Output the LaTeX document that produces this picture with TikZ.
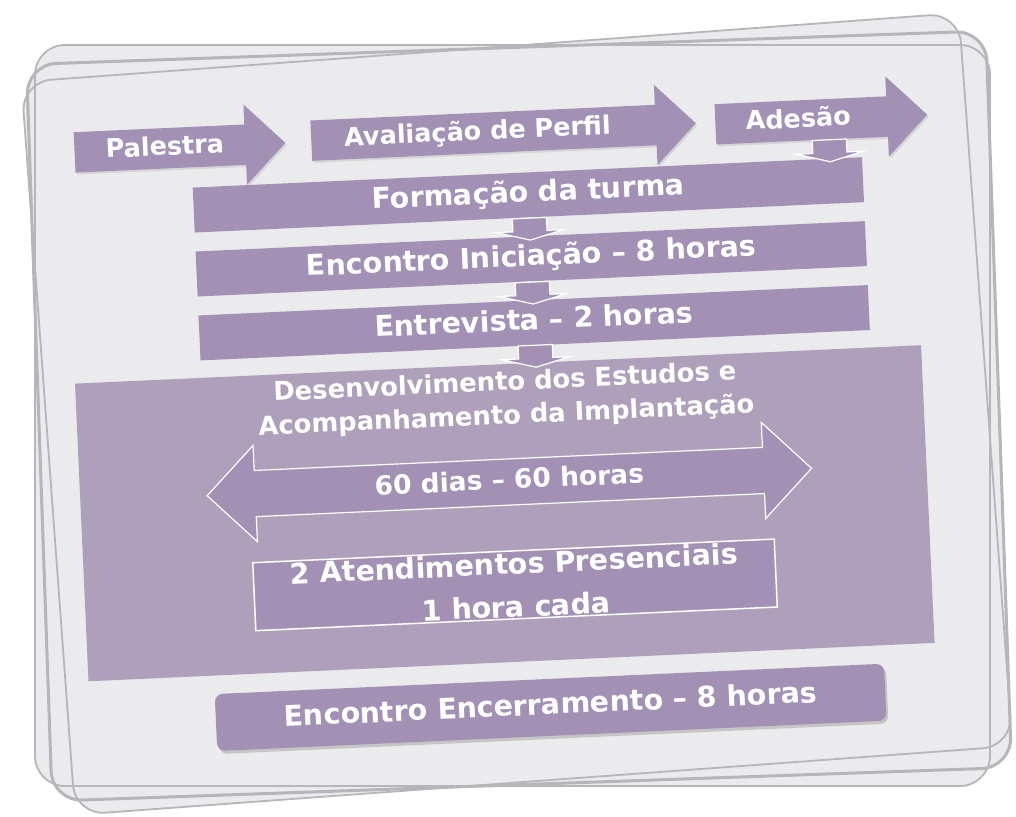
\documentclass[tikz,border=0pt]{standalone}
\usepackage{fontspec}
\setmainfont{DejaVu Sans}
\usetikzlibrary{positioning, calc, shapes.arrows, shadows}

\definecolor{boxpurple}{HTML}{A291B4}
\definecolor{panelpurple}{HTML}{AEA0BB}
\definecolor{sheetgray}{HTML}{EBEBED}
\definecolor{edgegray}{HTML}{B5B6BA}

\tikzset{
	sheet/.style={draw=edgegray, line width=1.8pt, rounded corners=30pt},
	bar/.style={fill=boxpurple, text=white, font=\bfseries\fontsize{28.5}{34}\selectfont,
		minimum width=670pt, minimum height=45pt, inner sep=0pt, text height=20pt, text depth=6pt},
	closing/.style={rounded corners=8pt, minimum height=57pt,
		drop shadow={opacity=0.35, shadow xshift=2pt, shadow yshift=-3pt}},
	steparrow/.style={single arrow, fill=boxpurple, text=white, font=\bfseries\fontsize{25.5}{30}\selectfont,
		text height=19pt, text depth=5pt, inner ysep=8pt, inner xsep=0pt,
		single arrow head extend=20pt, single arrow tip angle=90,
		drop shadow={opacity=0.2, shadow xshift=1.5pt, shadow yshift=-2pt}},
	downarrow/.style={single arrow, rotate=-90, fill=boxpurple, draw=white, line width=1.2pt,
		inner sep=0pt, inner ysep=16.5pt, minimum height=22pt,
		single arrow head extend=16.5pt, single arrow tip angle=150},
	panel/.style={fill=panelpurple, minimum width=847pt, minimum height=298pt, inner sep=0pt},
	paneltitle/.style={text=white, align=center, inner sep=0pt, font=\bfseries\fontsize{25.8}{30.5}\selectfont},
	span/.style={double arrow, fill=boxpurple, draw=white, line width=1.2pt, text=white,
		font=\bfseries\fontsize{26.5}{30}\selectfont, text height=19.5pt, text depth=5.5pt,
		inner ysep=10pt, inner xsep=0pt, minimum height=605pt,
		double arrow head extend=25pt, double arrow tip angle=90},
	visit/.style={fill=boxpurple, draw=white, line width=1.5pt, text=white, align=center,
		minimum width=522pt, minimum height=68pt, inner sep=0pt,
		font=\bfseries\fontsize{28.5}{38}\selectfont}
}

\begin{document}
\begin{tikzpicture}[x=1pt, y=-1pt]
	\useasboundingbox (0,0) rectangle (1016,816);

	% Sheets:
	\fill[sheetgray, rounded corners=30pt, rotate around={4.2:(517,414)}] (47,46.5) rectangle (987,781.5);
	\fill[sheetgray, rounded corners=30pt] (35,45) rectangle (990,786);
	\fill[sheetgray, rounded corners=30pt, rotate around={2:(519,416)}] (39,47.5) rectangle (999,784.5);
	\draw[sheet, rotate around={4.2:(517,414)}] (47,46.5) rectangle (987,781.5);
	\draw[sheet] (35,45) rectangle (990,786);
	\draw[sheet, line width=3pt, rotate around={2:(519,416)}] (39,47.5) rectangle (999,784.5);

	\begin{scope}[rotate around={2.6:(508,408)}, transform shape]
		% Steps:
		\node[steparrow, minimum height=211pt] (pal) at (182,133) {Palestra\hspace*{10pt}};
		\node[steparrow, minimum height=385pt] (aval) at (506,132) {Avaliação de Perfil\hspace*{32pt}};
		\node[steparrow, minimum height=212pt] (ades) at (824,134) {Adesão\hspace*{26pt}};

		\node[bar] (form) at (538,196) {Formação da turma};
		\node[bar] (ini) at (538,260) {Encontro Iniciação – 8 horas};
		\node[bar] (entr) at (538,324) {Entrevista – 2 horas};

		% Development panel:
		\node[panel] (devt) at (500,513) {};
		\node[paneltitle] (devtitle) at (506,400) {Desenvolvimento dos Estudos e\\[3pt]Acompanhamento da Implantação};
		\node[span] (days) at (506,482) {60 dias – 60 horas};
		\node[visit] (visits) at (507,585) {2 Atendimentos Presenciais\\[5pt]1 hora cada};

		\node[bar, closing] (close) at (537,709) {Encontro Encerramento – 8 horas};

		% Arrows:
		\node[downarrow] (d0) at ($(form.north east)+(-32,-10)$) {};
		\node[downarrow] (d1) at ($(form.south)!0.5!(ini.north)$) {};
		\node[downarrow] (d2) at ($(ini.south)!0.5!(entr.north)$) {};
		\node[downarrow] (d3) at ($(entr.south)!0.5!(entr.south |- devt.north)$) {};
	\end{scope}
\end{tikzpicture}
\end{document}
